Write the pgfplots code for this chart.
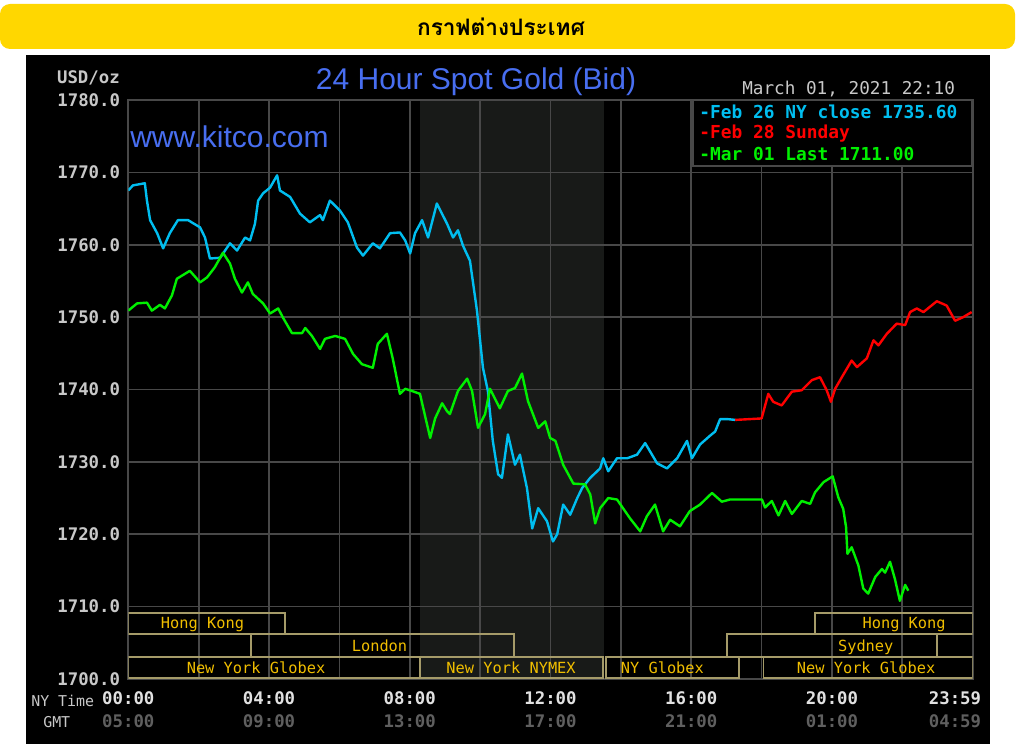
\documentclass[border=0pt]{standalone}
\usepackage{fontspec}
\usepackage{pgfplots}
\pgfplotsset{compat=1.18}
\setmainfont{Liberation Sans}
\setmonofont{DejaVu Sans Mono}
\newfontfamily\thaifont[Script=Thai]{Loma}
\definecolor{gold}{RGB}{255,215,0}
\definecolor{kblue}{RGB}{72,110,240}
\definecolor{lab}{RGB}{200,200,200}
\definecolor{tickw}{RGB}{225,225,225}
\definecolor{gmt}{RGB}{95,95,95}
\definecolor{gridc}{RGB}{72,72,72}
\definecolor{nymexbg}{RGB}{24,26,24}
\definecolor{cyanl}{RGB}{0,190,240}
\definecolor{redl}{RGB}{255,0,0}
\definecolor{greenl}{RGB}{0,240,0}
\definecolor{boxc}{RGB}{165,155,105}
\definecolor{boxt}{RGB}{240,190,0}
\newcommand{\monob}{\fontsize{13}{17.25}\selectfont\ttfamily\bfseries}
\begin{document}
\begin{tikzpicture}
\path (0,0) rectangle (762.75pt,558pt);
\begin{scope}[x=0.75pt,y=-0.75pt,yshift=558pt]
\fill[gold, rounded corners=7.5pt] (0,4) rectangle (1015,49);
\node[font=\thaifont\bfseries\fontsize{17}{20}\selectfont, text=black] at (501,27) {กราฟต่างประเทศ};
\fill[black] (26,55) rectangle (990,744);
% NYMEX trading hours (08:20-13:30)
\fill[nymexbg] (420,100) rectangle (604,679);
\end{scope}

\begin{axis}[
  at={(96.225pt,48.75pt)}, anchor=south west,
  width=633.3pt, height=434.25pt, scale only axis,
  xmin=0, xmax=24, ymin=1700, ymax=1780,
  axis line style={gridc, line width=1.3pt},
  tick style={draw=none},
  major tick length=0pt, minor tick length=0pt,
  xmajorgrids, ymajorgrids, xminorgrids,
  major grid style={gridc, line width=1.3pt},
  minor grid style={gridc, line width=1.3pt},
  xtick={0,4,8,12,16,20},
  minor xtick={2,6,10,14,18,22},
  xticklabels={{00:00\\\textcolor{gmt}{05:00}},{04:00\\\textcolor{gmt}{09:00}},{08:00\\\textcolor{gmt}{13:00}},{12:00\\\textcolor{gmt}{17:00}},{16:00\\\textcolor{gmt}{21:00}},{20:00\\\textcolor{gmt}{01:00}}},
  extra x ticks={24},
  extra x tick labels={{23:59\\\textcolor{gmt}{04:59}}},
  extra x tick style={xticklabel style={xshift=-13.3pt}},
  xticklabel style={font=\monob, text=tickw, align=center, anchor=north, inner sep=0pt, yshift=-9pt},
  ytick={1700,1710,1720,1730,1740,1750,1760,1770,1780},
  yticklabels={1700.0,1710.0,1720.0,1730.0,1740.0,1750.0,1760.0,1770.0,1780.0},
  yticklabel style={font=\monob, text=lab, anchor=east, inner sep=0pt, xshift=-6pt},
]
\addplot[cyanl, line width=1.8pt, line join=round] coordinates {
(0.00,1767.5)(0.13,1768.2)(0.47,1768.5)(0.53,1766.1)(0.62,1763.4)(0.82,1761.6)(0.99,1759.5)(1.18,1761.6)(1.41,1763.4)(1.70,1763.4)(2.04,1762.4)(2.18,1761.0)(2.32,1758.1)(2.61,1758.2)(2.75,1759.2)(2.89,1760.2)(3.09,1759.2)(3.32,1761.0)(3.46,1760.6)(3.60,1762.9)(3.69,1766.1)(3.83,1767.1)(4.03,1767.9)(4.23,1769.6)(4.31,1767.5)(4.60,1766.6)(4.88,1764.3)(5.16,1763.1)(5.45,1764.1)(5.53,1763.4)(5.73,1766.1)(6.02,1764.7)(6.24,1763.1)(6.50,1759.6)(6.67,1758.5)(6.95,1760.2)(7.15,1759.5)(7.44,1761.6)(7.72,1761.7)(7.87,1760.6)(8.01,1758.8)(8.15,1761.6)(8.35,1763.4)(8.52,1761.0)(8.77,1765.7)(9.06,1762.9)(9.23,1761.0)(9.37,1762.0)(9.51,1759.9)(9.71,1757.8)(9.91,1750.9)(10.08,1743.0)(10.22,1739.8)(10.36,1732.9)(10.51,1728.3)(10.62,1727.8)(10.79,1733.8)(10.99,1729.6)(11.13,1731.0)(11.33,1726.4)(11.48,1720.8)(11.65,1723.6)(11.90,1721.8)(12.07,1719.0)(12.19,1720.0)(12.36,1724.1)(12.56,1722.7)(12.76,1725.0)(12.90,1726.4)(13.13,1727.8)(13.41,1729.1)(13.50,1730.5)(13.64,1728.7)(13.89,1730.5)(14.18,1730.5)(14.46,1731.0)(14.69,1732.6)(15.03,1729.8)(15.31,1729.1)(15.60,1730.5)(15.88,1732.9)(16.02,1730.5)(16.25,1732.4)(16.53,1733.6)(16.68,1734.2)(16.82,1735.9)(17.05,1735.9)(17.25,1735.8)};

\addplot[redl, line width=1.8pt, line join=round] coordinates {
(17.25,1735.8)(18.00,1736.0)(18.19,1739.4)(18.33,1738.3)(18.57,1737.8)(18.86,1739.7)(19.14,1739.9)(19.43,1741.3)(19.66,1741.7)(19.85,1739.9)(19.97,1738.3)(20.09,1740.1)(20.28,1741.7)(20.56,1744.0)(20.71,1743.1)(20.99,1744.3)(21.18,1746.8)(21.32,1746.1)(21.56,1747.7)(21.84,1749.1)(22.08,1748.9)(22.22,1750.7)(22.41,1751.2)(22.60,1750.7)(22.98,1752.2)(23.26,1751.6)(23.50,1749.5)(23.73,1750.0)(23.97,1750.7)};

\addplot[greenl, line width=1.8pt, line join=round] coordinates {
(0.00,1750.9)(0.25,1751.9)(0.53,1752.0)(0.67,1750.9)(0.90,1751.7)(1.04,1751.2)(1.24,1753.0)(1.38,1755.3)(1.75,1756.4)(2.04,1754.8)(2.24,1755.5)(2.46,1756.9)(2.69,1758.9)(2.89,1757.4)(3.03,1755.3)(3.23,1753.4)(3.40,1754.8)(3.54,1753.2)(3.83,1751.9)(4.03,1750.5)(4.26,1751.2)(4.40,1749.9)(4.65,1747.8)(4.94,1747.8)(5.03,1748.5)(5.22,1747.4)(5.45,1745.6)(5.59,1747.0)(5.88,1747.4)(6.16,1747.0)(6.39,1744.9)(6.64,1743.5)(6.95,1743.0)(7.09,1746.3)(7.35,1747.7)(7.52,1744.2)(7.72,1739.4)(7.87,1740.1)(8.06,1739.8)(8.29,1739.4)(8.58,1733.3)(8.72,1736.0)(8.92,1738.1)(9.06,1737.0)(9.14,1736.6)(9.37,1739.8)(9.63,1741.5)(9.77,1739.8)(9.94,1734.7)(10.14,1736.6)(10.28,1740.1)(10.56,1737.4)(10.79,1739.8)(10.99,1740.2)(11.19,1742.2)(11.36,1738.4)(11.65,1734.7)(11.85,1735.6)(11.99,1733.3)(12.14,1732.9)(12.36,1729.6)(12.65,1727.0)(12.98,1726.9)(13.13,1725.5)(13.27,1721.5)(13.41,1723.6)(13.64,1725.0)(13.89,1724.8)(14.26,1722.2)(14.55,1720.4)(14.74,1722.5)(14.97,1724.1)(15.20,1720.4)(15.40,1722.0)(15.68,1721.1)(15.96,1723.2)(16.25,1724.1)(16.59,1725.7)(16.87,1724.5)(17.10,1724.8)(18.01,1724.8)(18.10,1723.7)(18.29,1724.6)(18.48,1722.6)(18.67,1724.6)(18.86,1722.8)(19.14,1724.6)(19.38,1724.2)(19.52,1725.8)(19.76,1727.2)(20.02,1728.0)(20.18,1725.1)(20.32,1723.5)(20.40,1721.0)(20.44,1717.3)(20.56,1718.2)(20.75,1715.7)(20.89,1712.5)(21.03,1711.8)(21.23,1714.1)(21.42,1715.2)(21.51,1714.7)(21.65,1716.2)(21.79,1713.8)(21.93,1710.8)(22.08,1713.0)(22.17,1712.2)};

% market session boxes
\draw[boxc, line width=1.3pt] (0,1706.22) rectangle (4.454,1709.08);
\draw[boxc, line width=1.3pt] (3.488,1703.08) rectangle (10.96,1706.22);
\draw[boxc, line width=1.3pt] (0,1700.1) rectangle (8.29,1703.08);
\draw[boxc, line width=1.3pt] (8.29,1700.1) rectangle (13.50,1703.08);
\draw[boxc, line width=1.3pt] (13.58,1700.1) rectangle (17.36,1703.08);
\draw[boxc, line width=1.3pt] (18.05,1700.1) rectangle (24,1703.08);
\draw[boxc, line width=1.3pt] (17.01,1703.08) rectangle (22.98,1706.22);
\draw[boxc, line width=1.3pt] (19.52,1706.22) rectangle (24,1709.08);
\node[font=\fontsize{11.5}{13}\selectfont\ttfamily, text=boxt, anchor=base, inner sep=0pt] at (2.11,1706.98) {Hong Kong};
\node[font=\fontsize{11.5}{13}\selectfont\ttfamily, text=boxt, anchor=base, inner sep=0pt] at (7.14,1703.80) {London};
\node[font=\fontsize{11.5}{13}\selectfont\ttfamily, text=boxt, anchor=base, inner sep=0pt] at (3.63,1700.79) {New York Globex};
\node[font=\fontsize{11.5}{13}\selectfont\ttfamily, text=boxt, anchor=base, inner sep=0pt] at (10.88,1700.79) {New York NYMEX};
\node[font=\fontsize{11.5}{13}\selectfont\ttfamily, text=boxt, anchor=base, inner sep=0pt] at (15.18,1700.79) {NY Globex};
\node[font=\fontsize{11.5}{13}\selectfont\ttfamily, text=boxt, anchor=base, inner sep=0pt] at (20.97,1700.79) {New York Globex};
\node[font=\fontsize{11.5}{13}\selectfont\ttfamily, text=boxt, anchor=base, inner sep=0pt] at (20.96,1703.80) {Sydney};
\node[font=\fontsize{11.5}{13}\selectfont\ttfamily, text=boxt, anchor=base, inner sep=0pt] at (22.05,1706.98) {Hong Kong};
\end{axis}

\begin{scope}[x=0.75pt,y=-0.75pt,yshift=558pt]
\fill[black] (693,100) rectangle (972,166);
\draw[gridc, line width=1.3pt] (693,100) rectangle (972,166);
\node[font=\fontsize{13.4}{16}\selectfont\ttfamily\bfseries, anchor=base west, inner sep=0pt, text=cyanl] at (699,118.3) {-Feb 26 NY close 1735.60};
\node[font=\fontsize{13.4}{16}\selectfont\ttfamily\bfseries, anchor=base west, inner sep=0pt, text=redl] at (699,138.8) {-Feb 28 Sunday};
\node[font=\fontsize{13.4}{16}\selectfont\ttfamily\bfseries, anchor=base west, inner sep=0pt, text=greenl] at (699,160.3) {-Mar 01 Last 1711.00};
\node[font=\fontsize{22.5}{26}\selectfont, text=kblue] at (476,82) {24 Hour Spot Gold (Bid)};
\node[font=\fontsize{22.5}{26}\selectfont, text=kblue, anchor=west, inner sep=0pt] at (130,137) {www.kitco.com};
\node[font=\monob, text=lab, anchor=base east, inner sep=0pt] at (120,83.3) {USD/oz};
\node[font=\fontsize{13.25}{16}\selectfont\ttfamily, text=lab, anchor=base west, inner sep=0pt] at (742,94.3) {March 01, 2021 22:10};
\node[font=\fontsize{11.2}{14}\selectfont\ttfamily, text=lab, anchor=base west, inner sep=0pt] at (31,706) {NY Time};
\node[font=\fontsize{11.2}{14}\selectfont\ttfamily, text=lab, anchor=base west, inner sep=0pt] at (43,727) {GMT};
\end{scope}
\end{tikzpicture}
\end{document}
